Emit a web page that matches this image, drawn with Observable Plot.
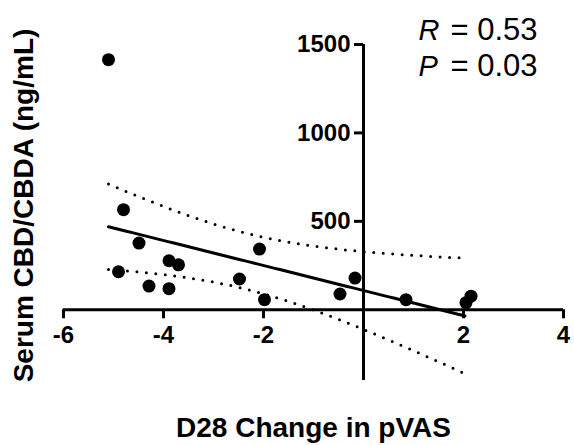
<!DOCTYPE html>
<html>
<head>
<meta charset="utf-8">
<script src="https://cdn.jsdelivr.net/npm/d3@7"></script>
<script src="https://cdn.jsdelivr.net/npm/@observablehq/plot@0.6"></script>
<style>
  html, body { margin: 0; padding: 0; background: #fff; }
  #chart { width: 574px; height: 445px; }
</style>
</head>
<body>
<div id="chart"></div>
<script>
// ---- data ----
const pvasChange = [-5.1, -4.8, -4.9, -4.49, -4.29, -3.89, -3.89, -3.70, -2.48, -2.08, -1.98, -0.47, -0.17, 0.85, 2.05, 2.15];
const serumCBD   = [1414, 566, 215, 377, 134, 277, 119, 254, 174, 343, 57, 89, 179, 57, 40, 77];
const xTicks = [-6, -4, -2, 2, 4];
const yTicks = [500, 1000, 1500];
const xDomain = [-6, 4];
const yDomain = [-400, 1500];
const fitRange = [-5.1, 2.03];
const statNames = ["R", "P"];
const statValues = ["= 0.53", "= 0.03"];
const xLabel = "D28 Change in pVAS";
const yLabel = "Serum CBD/CBDA (ng/mL)";

const points = pvasChange.map((x, i) => ({x, y: serumCBD[i]}));

// ---- linear regression with 95% confidence band ----
const n = points.length;
const mx = d3.mean(points, d => d.x), my = d3.mean(points, d => d.y);
const sxx = d3.sum(points, d => (d.x - mx) ** 2);
const sxy = d3.sum(points, d => (d.x - mx) * (d.y - my));
const slope = sxy / sxx, intercept = my - slope * mx;
const sse = d3.sum(points, d => (d.y - (intercept + slope * d.x)) ** 2);
const s = Math.sqrt(sse / (n - 2));
const tCrit = 2.1448; // t(0.975, df = 14)
const fitX = d3.range(0, 61).map(i => fitRange[0] + (fitRange[1] - fitRange[0]) * i / 60);
const fit = fitX.map(x => {
  const yhat = intercept + slope * x;
  const se = s * Math.sqrt(1 / n + (x - mx) ** 2 / sxx);
  return {x, y: yhat, lo: yhat - tCrit * se, hi: yhat + tCrit * se};
});

const font = "'Liberation Sans', Arial, Helvetica, sans-serif";
const dotted = {stroke: "black", strokeWidth: 3, strokeDasharray: "0 9.5", strokeLinecap: "round"};

// statistic texts (R / P): names italic, values upright
const statMarks = statNames.flatMap((name, i) => [
  Plot.text([name], {frameAnchor: "top-right", dx: -145, dy: -14 + 36 * i, text: d => d, textAnchor: "start", fontStyle: "italic", fontSize: 29, lineAnchor: "middle", fill: "black"}),
  Plot.text([statValues[i]], {frameAnchor: "top-right", dx: -26, dy: -14 + 36 * i, text: d => d, textAnchor: "end", fontSize: 31, lineAnchor: "middle", fill: "black"})
]);

const chart = Plot.plot({
  width: 574,
  height: 445,
  marginLeft: 63,
  marginRight: 11,
  marginTop: 44,
  marginBottom: 65,
  style: {fontFamily: font, background: "white", overflow: "visible"},
  x: {domain: xDomain, axis: null},
  y: {domain: yDomain, axis: null},
  marks: [
    // confidence band (dotted)
    Plot.line(fit, {x: "x", y: "hi", ...dotted}),
    Plot.line(fit, {x: "x", y: "lo", ...dotted}),
    // axes through the origin
    Plot.ruleY([0], {x1: xDomain[0], x2: xDomain[1], stroke: "black", strokeWidth: 3}),
    Plot.ruleX([0], {y1: yDomain[0], y2: yDomain[1], stroke: "black", strokeWidth: 3}),
    Plot.ruleX(xTicks, {x: d => d, y1: 0, y2: 0, insetBottom: -9, stroke: "black", strokeWidth: 3}),
    Plot.ruleY(yTicks, {y: d => d, x1: 0, x2: 0, insetLeft: -9, stroke: "black", strokeWidth: 3}),
    Plot.text(xTicks, {x: d => d, y: 0, dy: 26, text: d => String(d), fontSize: 24, fontWeight: "bold", lineAnchor: "middle", fill: "black"}),
    Plot.text(yTicks, {x: 0, y: d => d, dx: -13, text: d => String(d), textAnchor: "end", fontSize: 24, fontWeight: "bold", lineAnchor: "middle", fill: "black"}),
    // regression line
    Plot.line(fit, {x: "x", y: "y", stroke: "black", strokeWidth: 3}),
    // data points
    Plot.dot(points, {x: "x", y: "y", r: 6.5, fill: "black", stroke: "none"}),
    // axis titles
    Plot.text([xLabel], {frameAnchor: "bottom", dy: 48, text: d => d, fontSize: 28, fontWeight: "bold", lineAnchor: "middle", textAnchor: "middle", fill: "black"}),
    Plot.text([yLabel], {frameAnchor: "left", dx: -39, dy: -7, rotate: -90, text: d => d, fontSize: 28, fontWeight: "bold", lineAnchor: "middle", textAnchor: "middle", fill: "black"}),
    ...statMarks
  ]
});

document.getElementById("chart").appendChild(chart);
</script>
</body>
</html>
